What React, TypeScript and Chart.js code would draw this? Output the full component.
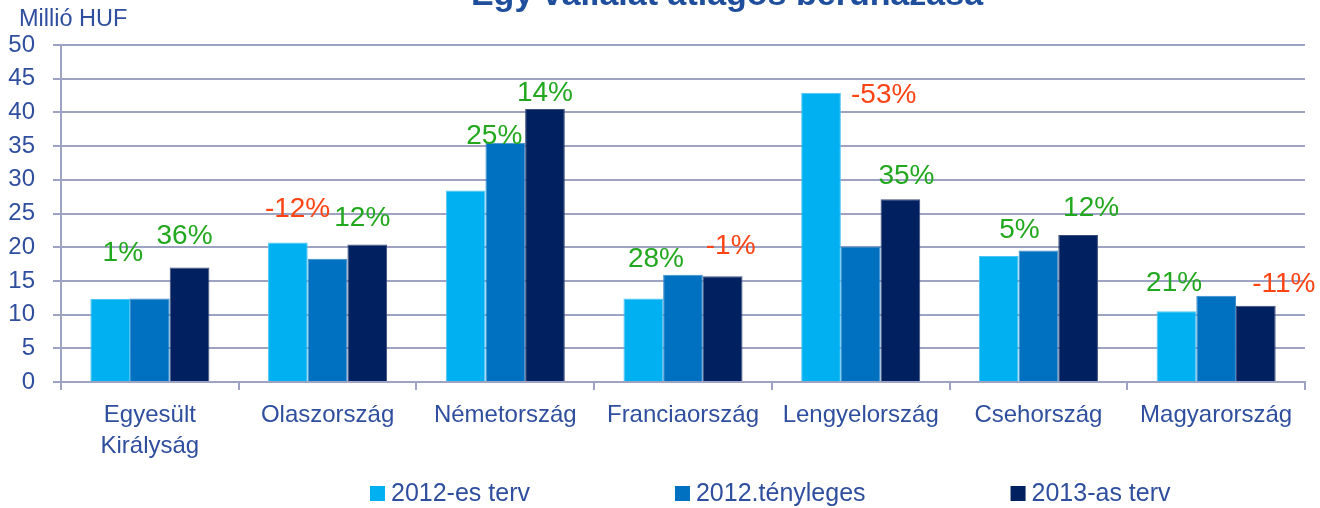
import React, { useEffect, useRef } from "react";
import { Chart, registerables } from "chart.js";

Chart.register(...registerables);

// ---- data ----
const categories: (string | string[])[] = [
  ["Egyesült", "Királyság"],
  "Olaszország",
  "Németország",
  "Franciaország",
  "Lengyelország",
  "Csehország",
  "Magyarország",
];
const seriesNames = ["2012-es terv", "2012.tényleges", "2013-as terv"];
const plan2012 = [12.3, 20.7, 28.4, 12.4, 42.9, 18.7, 10.5];
const actual2012 = [12.4, 18.3, 35.5, 15.9, 20.1, 19.5, 12.8];
const plan2013 = [17.0, 20.4, 40.5, 15.7, 27.1, 21.8, 11.3];
const actualChangeLabels = ["1%", "-12%", "25%", "28%", "-53%", "5%", "21%"];
const planChangeLabels = ["36%", "12%", "14%", "-1%", "35%", "12%", "-11%"];
const yMin = 0;
const yMax = 50;
const yStep = 5;
const titleText = "Egy vállalat átlagos beruházása";
const unitText = "Millió HUF";

// ---- style ----
const W = 1320;
const H = 508;
const FONT = "'Liberation Sans', Arial, sans-serif";
const TEXT_BLUE = "#2F4F9E";
const TITLE_BLUE = "#1F4E9C";
const GRID = "#9EA2C3";
const COLORS = ["#00B0F0", "#0070C0", "#002060"];
const BORDERS = ["#4CC6F3", "#3A8CCB", "#3B4D7A"];
const GREEN = "#22A81E";
const RED = "#FF4414";
// label offsets (px) from bar top-centre: [dx, dy]
const actualLabelOffsets = [[-27, -45], [-30, -49], [-11, -6], [-27, -16], [23, -151], [-19, -20], [-42, -12]];
const planLabelOffsets = [[-5, -31], [-5, -26], [0, -16], [8, -30], [6, -23], [13, -27], [28, -22]];

const decorPlugin = {
  id: "decor",
  afterDatasetsDraw(chart: any) {
    const ctx = chart.ctx as CanvasRenderingContext2D;
    ctx.save();
    ctx.font = `28px ${FONT}`;
    ctx.textAlign = "center";
    ctx.textBaseline = "middle";
    const groups: [number, string[], number[][]][] = [
      [1, actualChangeLabels, actualLabelOffsets],
      [2, planChangeLabels, planLabelOffsets],
    ];
    for (const [di, labels, offs] of groups) {
      const meta = chart.getDatasetMeta(di);
      meta.data.forEach((el: any, i: number) => {
        const t = labels[i];
        ctx.fillStyle = t.startsWith("-") ? RED : GREEN;
        ctx.fillText(t, el.x + offs[i][0], el.y + offs[i][1]);
      });
    }
    ctx.restore();
  },
  afterDraw(chart: any) {
    const ctx = chart.ctx as CanvasRenderingContext2D;
    ctx.save();
    // title (cut off at top as in the reference)
    ctx.font = `bold 34px ${FONT}`;
    ctx.fillStyle = TITLE_BLUE;
    ctx.textAlign = "center";
    ctx.textBaseline = "alphabetic";
    ctx.fillText(titleText, 727, 5);
    // unit
    ctx.font = `23.5px ${FONT}`;
    ctx.fillStyle = TEXT_BLUE;
    ctx.textAlign = "left";
    ctx.fillText(unitText, 19, 26);
    // legend
    ctx.font = `25px ${FONT}`;
    let x = 370;
    const box = 15;
    const baseY = 501;
    chart.data.datasets.forEach((ds: any) => {
      ctx.fillStyle = ds.backgroundColor;
      ctx.fillRect(x, baseY - box, box, box);
      ctx.fillStyle = TEXT_BLUE;
      ctx.fillText(ds.label, x + box + 6, baseY);
      x += box + 6 + ctx.measureText(ds.label).width + 145;
    });
    ctx.restore();
  },
};

export default function App() {
  const ref = useRef<HTMLCanvasElement | null>(null);
  useEffect(() => {
    if (!ref.current) return;
    const chart = new Chart(ref.current, {
      type: "bar",
      data: {
        labels: categories as any,
        datasets: [plan2012, actual2012, plan2013].map((d, i) => ({
          label: seriesNames[i],
          data: d,
          backgroundColor: COLORS[i],
          borderColor: BORDERS[i],
          borderWidth: 1,
          categoryPercentage: 0.67,
          barPercentage: 1.0,
        })),
      },
      options: {
        responsive: false,
        animation: false,
        layout: { padding: { top: 45, right: 15, bottom: 26, left: 0 } },
        plugins: {
          legend: { display: false },
          title: { display: false },
          tooltip: { enabled: false },
        },
        scales: {
          x: {
            grid: {
              offset: true,
              drawOnChartArea: false,
              drawTicks: true,
              tickLength: 8,
              color: GRID,
              lineWidth: 2,
            },
            border: { display: true, color: GRID, width: 2 },
            ticks: {
              color: TEXT_BLUE,
              font: { family: FONT, size: 24, lineHeight: 1.3 },
              padding: 10,
              maxRotation: 0,
              autoSkip: false,
            },
            afterFit: (s: any) => {
              s.height = 100;
            },
          },
          y: {
            min: yMin,
            max: yMax,
            grid: { color: GRID, lineWidth: 2, tickLength: 8 },
            border: { display: true, color: GRID, width: 2 },
            ticks: {
              stepSize: yStep,
              color: TEXT_BLUE,
              font: { family: FONT, size: 24 },
              padding: 18,
            },
            afterFit: (s: any) => {
              s.width = 61;
            },
          },
        },
      },
      plugins: [decorPlugin],
    });
    return () => chart.destroy();
  }, []);
  return (
    <div style={{ position: "fixed", left: 0, top: 0, width: W, height: H, background: "#fff" }}>
      <canvas ref={ref} width={W} height={H} style={{ display: "block" }} />
    </div>
  );
}
